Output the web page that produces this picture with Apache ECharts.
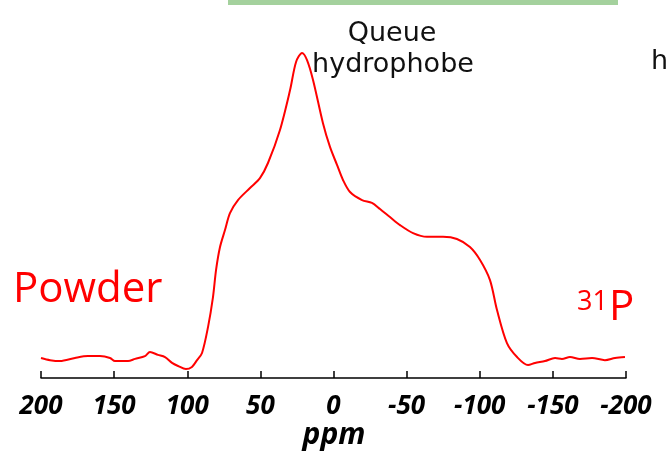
<!DOCTYPE html>
<html>
<head>
<meta charset="utf-8">
<script src="https://cdn.jsdelivr.net/npm/echarts@6/dist/echarts.min.js"></script>
<style>
  html, body { margin: 0; padding: 0; background: #fff; }
  #chart { width: 668px; height: 453px; }
</style>
</head>
<body>
<div id="chart"></div>
<script>
// chemical shift (ppm) and intensity
var ppm = [200, 193.8, 187, 176.8, 167.9, 159.7, 152.8, 149.4, 140.5, 135.7, 128.9, 125.5, 120, 115.2, 110.4, 106.3, 100.9, 96.8, 93.3, 89.9,
  85.8, 82.4, 80.3, 77.6, 74.2, 70.8, 65.3, 57.1, 50.3, 44.8, 36.6, 29.7, 25.6, 21.5, 18.1, 14.0, 7.2, 2.4, -2.4, -6.5,
  -11.3, -19.5, -26.3, -31.8, -38.6, -45.5, -54.4, -63.9, -74.9, -84.4, -93.3, -100.2, -107, -111.8, -118.6, -125.5, -133, -137.8, -144.6, -151.5,
  -156.2, -161.7, -168.5, -176.8, -185.6, -192.5, -199.3];
var intensity = [1.3, 0.6, 0.3, 1.3, 1.9, 1.9, 1.3, 0.3, 0.3, 1.0, 1.9, 3.2, 2.3, 1.6, -0.3, -1.3, -2.3, -1.6, 0.6, 2.9,
  11.3, 21.0, 29.8, 37.2, 42.7, 48.2, 52.4, 56.3, 59.5, 64.4, 75.1, 88.0, 97.1, 100, 97.7, 91.3, 77.3, 69.6, 63.8, 58.9,
  55.0, 52.4, 51.5, 49.5, 46.9, 44.3, 41.7, 40.5, 40.5, 39.8, 37.2, 33.0, 26.5, 16.8, 6.1, 1.6, -1.0, -0.3, 0.3, 1.3,
  1.0, 1.6, 1.0, 1.3, 0.6, 1.3, 1.6];

var seriesData = ppm.map(function (p, i) { return [p, intensity[i]]; });

var chart = echarts.init(document.getElementById('chart'), null, { renderer: 'canvas' });
chart.setOption({
  animation: false,
  grid: { left: 41, right: 42, top: 53, bottom: 75, containLabel: false, outerBoundsMode: 'none' },
  xAxis: {
    type: 'value',
    inverse: true,
    min: -200,
    max: 200,
    interval: 50,
    splitLine: { show: false },
    axisLine: { onZero: false, lineStyle: { color: '#000', width: 1.5 } },
    axisTick: { inside: true, length: 7, lineStyle: { color: '#000', width: 1.5 } },
    axisLabel: {
      margin: 16,
      fontFamily: 'Open Sans',
      fontStyle: 'italic',
      fontWeight: 'bold',
      fontSize: 26,
      color: '#000',
      hideOverlap: false
    }
  },
  yAxis: {
    type: 'value',
    min: -5.18,
    max: 100,
    show: false
  },
  series: [{
    type: 'line',
    data: seriesData,
    showSymbol: false,
    smooth: 0.3,
    lineStyle: { color: '#ff0000', width: 2 }
  }],
  graphic: [
    { type: 'rect', shape: { x: 228, y: 0, width: 390, height: 5 }, style: { fill: '#a4d19d' } },
    { type: 'text', x: 392, y: 34, style: { text: 'Queue', font: '27px "DejaVu Sans"', fill: '#111', align: 'center', verticalAlign: 'middle' } },
    { type: 'text', x: 393, y: 65, style: { text: 'hydrophobe', font: '27px "DejaVu Sans"', fill: '#111', align: 'center', verticalAlign: 'middle' } },
    { type: 'text', x: 651, y: 62, style: { text: 'h', font: '27px "DejaVu Sans"', fill: '#111', verticalAlign: 'middle' } },
    { type: 'text', x: 334, y: 435, style: { text: 'ppm', font: 'italic bold 30px "Open Sans"', fill: '#000', align: 'center', verticalAlign: 'middle' } },
    { type: 'text', x: 13, y: 290, style: { text: 'Powder', font: '42px "Open Sans"', fill: '#ff0000', verticalAlign: 'middle' } },
    { type: 'text', x: 577, y: 302, style: { text: '31', font: '27px "Open Sans"', fill: '#ff0000', verticalAlign: 'middle' } },
    { type: 'text', x: 609, y: 308, style: { text: 'P', font: '42px "Open Sans"', fill: '#ff0000', verticalAlign: 'middle' } }
  ]
});
</script>
</body>
</html>
